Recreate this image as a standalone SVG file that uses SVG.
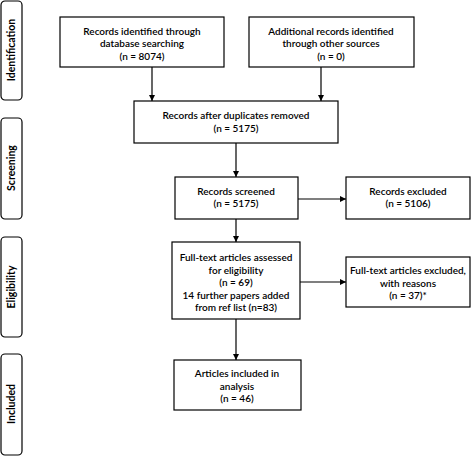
<svg xmlns="http://www.w3.org/2000/svg" width="473" height="456" viewBox="0 0 473 456">
<style>
.box{fill:#fff;stroke:#000;stroke-width:1.2}
.side{fill:#fff;stroke:#000;stroke-width:1.2}
text{font-family:Lato,"Liberation Sans",sans-serif;font-size:10px;font-weight:600;fill:#000;text-anchor:middle}
.st{font-weight:700;font-size:10.5px}
.c{stroke:#000;stroke-width:1.2;fill:none;marker-end:url(#ah)}
</style>
<defs>
<marker id="ah" viewBox="0 0 8 8" refX="8" refY="4" markerWidth="6" markerHeight="6" markerUnits="userSpaceOnUse" orient="auto">
<path d="M0,0 L8,4 L0,8 z" fill="#000"/>
</marker>
</defs>
<g id="side-identification"><rect class="side" x="1" y="1" width="21" height="99" rx="4"/><text class="st" transform="translate(15,50) rotate(-90)">Identification</text></g>
<g id="side-screening"><rect class="side" x="1" y="118" width="21" height="101" rx="4"/><text class="st" transform="translate(15,168) rotate(-90)">Screening</text></g>
<g id="side-eligibility"><rect class="side" x="1" y="237" width="21" height="100" rx="4"/><text class="st" transform="translate(15,287) rotate(-90)">Eligibility</text></g>
<g id="side-included"><rect class="side" x="1" y="354" width="21" height="101" rx="4"/><text class="st" transform="translate(15,404) rotate(-90)">Included</text></g>
<g id="connectors">
<line class="c" x1="152" y1="67" x2="152" y2="101"/>
<line class="c" x1="321" y1="67" x2="321" y2="101"/>
<line class="c" x1="236" y1="143" x2="236" y2="177"/>
<line class="c" x1="298" y1="199" x2="346" y2="199"/>
<line class="c" x1="236" y1="219" x2="236" y2="242"/>
<line class="c" x1="300" y1="282" x2="346" y2="282"/>
<line class="c" x1="236" y1="319" x2="236" y2="360"/>
</g>
<g id="db"><rect class="box" x="60" y="17" width="164" height="50"/><text x="142" y="35">Records identified through</text><text x="142" y="47">database searching</text><text x="142" y="60">(n = 8074)</text></g>
<g id="other"><rect class="box" x="249" y="17" width="165" height="50"/><text x="331" y="35">Additional records identified</text><text x="331" y="47">through other sources</text><text x="331" y="60">(n = 0)</text></g>
<g id="dupes"><rect class="box" x="134" y="101" width="204" height="42"/><text x="236" y="119">Records after duplicates removed</text><text x="236" y="132">(n = 5175)</text></g>
<g id="screened"><rect class="box" x="175" y="177" width="123" height="42"/><text x="236" y="195">Records screened</text><text x="236" y="207">(n = 5175)</text></g>
<g id="excluded"><rect class="box" x="346" y="177" width="124" height="42"/><text x="408" y="195">Records excluded</text><text x="408" y="207">(n = 5106)</text></g>
<g id="fulltext"><rect class="box" x="172" y="242" width="128" height="77"/><text x="236" y="261">Full-text articles assessed</text><text x="236" y="274">for eligibility</text><text x="236" y="286">(n = 69)</text><text x="236" y="299">14 further papers added</text><text x="236" y="311">from ref list (n=83)</text></g>
<g id="ftexcluded"><rect class="box" x="346" y="257" width="124" height="50"/><text x="408" y="274">Full-text articles excluded,</text><text x="408" y="287">with reasons</text><text x="408" y="299">(n = 37)*</text></g>
<g id="included"><rect class="box" x="174" y="360" width="127" height="50"/><text x="237" y="377">Articles included in</text><text x="237" y="390">analysis</text><text x="237" y="402">(n = 46)</text></g>
</svg>
